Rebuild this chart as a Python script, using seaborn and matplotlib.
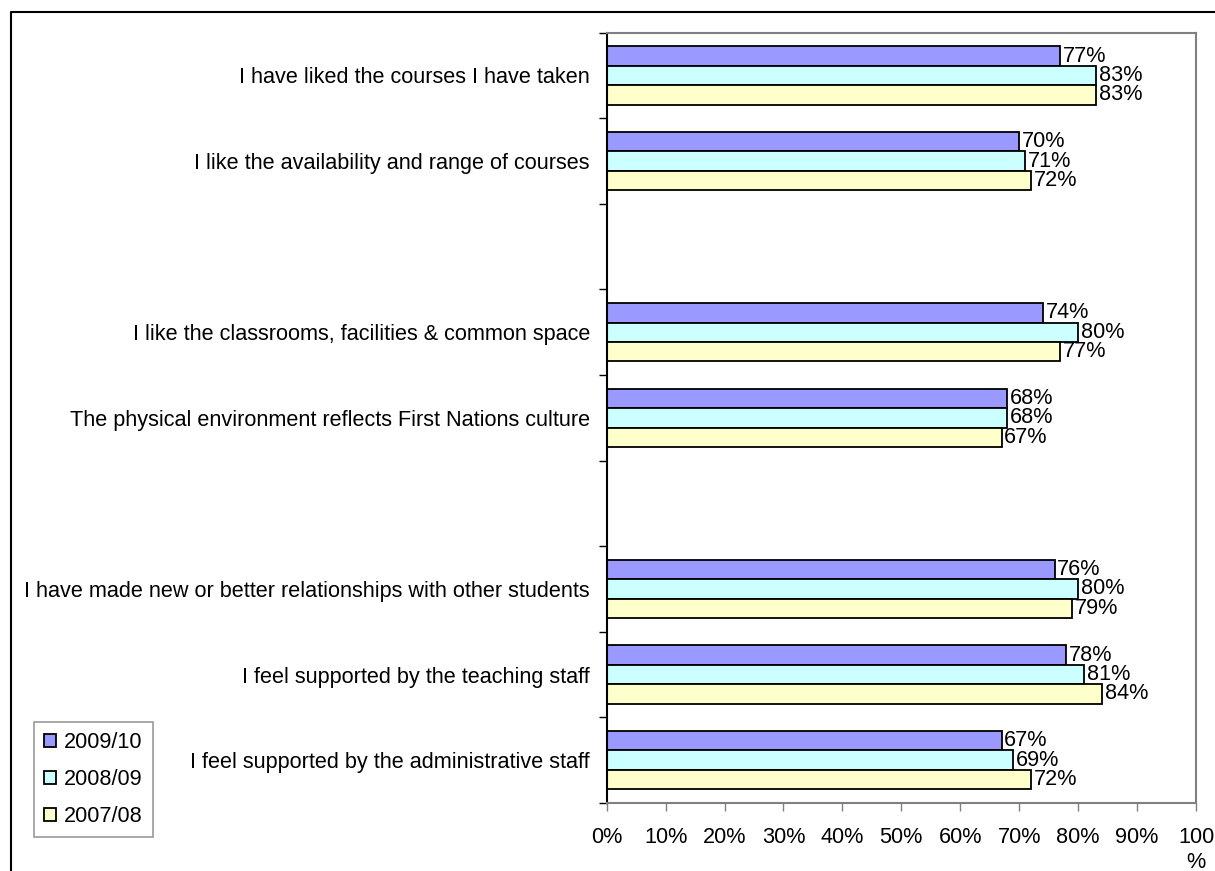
import pandas as pd
import seaborn as sns
import matplotlib.pyplot as plt
from matplotlib.lines import Line2D

# categories, top to bottom ("" marks the empty slots between groups)
categories = [
    "I have liked the courses I have taken",
    "I like the availability and range of courses",
    "",
    "I like the classrooms, facilities & common space",
    "The physical environment reflects First Nations culture",
    " ",
    "I have made new or better relationships with other students",
    "I feel supported by the teaching staff",
    "I feel supported by the administrative staff",
]
years = ["2009/10", "2008/09", "2007/08"]
colors = ["#9999FF", "#CCFFFF", "#FFFFCC"]

vals_2009_10 = [77, 70, None, 74, 68, None, 76, 78, 67]
vals_2008_09 = [83, 71, None, 80, 68, None, 80, 81, 69]
vals_2007_08 = [83, 72, None, 77, 67, None, 79, 84, 72]

x_ticks = [0, 10, 20, 30, 40, 50, 60, 70, 80, 90, 100]
x_labels = ["0%", "10%", "20%", "30%", "40%", "50%", "60%", "70%", "80%", "90%", "100\n%"]

rows = []
for year, vals in zip(years, [vals_2009_10, vals_2008_09, vals_2007_08]):
    for cat, v in zip(categories, vals):
        if v is not None:
            rows.append({"item": cat, "year": year, "pct": v})
df = pd.DataFrame(rows)

sns.set_style("white")
plt.rcParams["font.family"] = ["Liberation Sans", "DejaVu Sans"]
plt.rcParams["text.color"] = "black"
fs = 15.6

fig = plt.figure(figsize=(12.15, 8.71), dpi=100)
ax = fig.add_axes([0.4993, 0.0781, 0.4851, 0.8844])

sns.barplot(data=df, y="item", x="pct", hue="year", order=categories,
            hue_order=years, palette=colors, orient="h", width=0.68,
            edgecolor="black", linewidth=1.3, errorbar=None, saturation=1,
            ax=ax)

for cont in ax.containers:
    ax.bar_label(cont, labels=[f"{w:.0f}%" for w in cont.datavalues],
                 padding=2, fontsize=fs, color="black")

ax.set_xlim(0, 100)
ax.set_ylim(len(categories) - 0.5, -0.5)
ax.set_xticks(x_ticks)
ax.set_xticklabels(x_labels, fontsize=fs, linespacing=1.3, va="top")
ax.set_yticks(range(len(categories)))
ax.set_yticklabels(categories, fontsize=fs)
ax.set_yticks([i - 0.5 for i in range(len(categories) + 1)], minor=True)
ax.tick_params(axis="y", which="major", length=0, pad=12, labelcolor="black")
ax.tick_params(axis="y", which="minor", left=True, length=6, width=1, color="black")
ax.tick_params(axis="x", bottom=True, length=6, width=1, color="#808080", pad=11,
               labelcolor="black")
ax.set_xlabel("")
ax.set_ylabel("")

for side in ["top", "right", "bottom"]:
    ax.spines[side].set_color("#808080")
    ax.spines[side].set_linewidth(1.5)
ax.spines["left"].set_color("black")
ax.spines["left"].set_linewidth(1.5)

leg = ax.legend(loc="lower left", bbox_to_anchor=(0.028, 0.039),
                bbox_transform=fig.transFigure,
                fontsize=fs, frameon=True, fancybox=False, edgecolor="#808080",
                handlelength=0.55, handleheight=0.55, handletextpad=0.4,
                labelspacing=0.75, borderpad=0.45, borderaxespad=0)
leg.get_frame().set_linewidth(1.2)
for t in leg.get_texts():
    t.set_color("black")

# outer border (left and top only)
fig.add_artist(Line2D([11 / 1215, 11 / 1215, 1], [0, 1 - 12 / 871, 1 - 12 / 871],
                      transform=fig.transFigure, color="black", linewidth=1.5))

fig.savefig("out.png", dpi=100)
